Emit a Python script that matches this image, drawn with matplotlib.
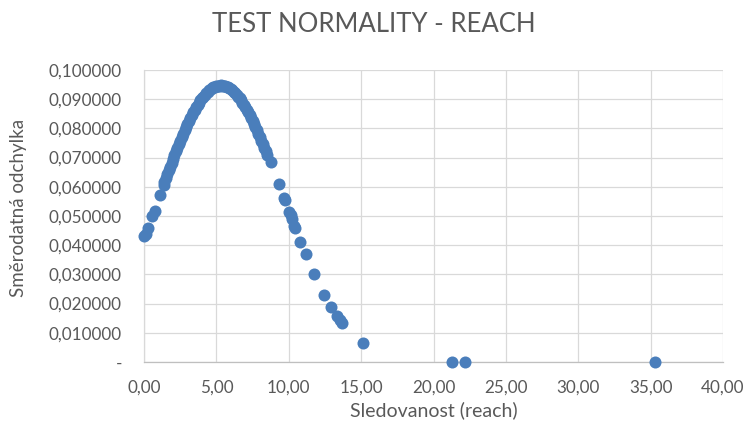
"""Scatter of normal density vs. reach (Excel-style recreation)."""

import matplotlib
matplotlib.use("Agg")
import matplotlib.pyplot as plt
from matplotlib.ticker import FuncFormatter

# reach values and their density
reach = [
    0.02, 0.12, 0.30, 0.55, 0.75, 1.12,
    1.35, 1.4, 1.5, 1.6, 1.7, 1.8, 1.9, 2.0, 2.1, 2.2, 2.3, 2.4, 2.5, 2.6,
    2.7, 2.8, 2.9, 3.0, 3.1, 3.2, 3.3, 3.4, 3.5, 3.6, 3.7, 3.8, 3.9, 4.0,
    4.1, 4.2, 4.3, 4.4, 4.5, 4.6, 4.7, 4.8, 4.9, 5.0, 5.1, 5.2, 5.3,
    5.4, 5.5, 5.6, 5.7, 5.8, 5.9, 6.0, 6.1, 6.2, 6.3, 6.4, 6.5, 6.6, 6.7,
    6.8, 6.9, 7.0, 7.1, 7.2, 7.3, 7.4, 7.5, 7.6, 7.7, 7.8, 7.9, 8.0, 8.1,
    8.2, 8.3, 8.4, 8.5,
    8.77, 9.35, 9.67, 9.72, 10.04, 10.15, 10.25, 10.38, 10.45, 10.77,
    11.17, 11.74, 12.43, 12.89, 13.35, 13.55, 13.70, 15.12,
    21.3, 22.2, 35.3,
]
density = [
    0.0430, 0.0440, 0.0458, 0.0499, 0.0516, 0.0573,
    0.0605, 0.06154, 0.06289, 0.06425, 0.06559, 0.06692, 0.06824, 0.06955,
    0.07084, 0.07212, 0.07338, 0.07462, 0.07583, 0.07702, 0.07819, 0.07932,
    0.08043, 0.08151, 0.08256, 0.08357, 0.08455, 0.08549, 0.08639, 0.08725,
    0.08807, 0.08885, 0.08958, 0.09027, 0.09091, 0.09151, 0.09205, 0.09255,
    0.09300, 0.09339, 0.09374, 0.09403, 0.09427, 0.09446, 0.09459, 0.09467,
    0.09470,
    0.09467, 0.09459, 0.09446, 0.09427, 0.09403, 0.09374, 0.09339, 0.09300,
    0.09255, 0.09205, 0.09151, 0.09091, 0.09027, 0.08958, 0.08885, 0.08807,
    0.08725, 0.08639, 0.08549, 0.08455, 0.08357, 0.08256, 0.08151, 0.08043,
    0.07932, 0.07819, 0.07702, 0.07583, 0.07462, 0.07338, 0.07212, 0.07100,
    0.0686, 0.0610, 0.0563, 0.0556, 0.0515, 0.0503, 0.0490, 0.0467, 0.0460,
    0.0412, 0.0370, 0.0301, 0.0229, 0.0189, 0.0157, 0.0143, 0.0135, 0.0066,
    0.0001, 0.0001, 0.0000,
]

x_ticks = [0, 5, 10, 15, 20, 25, 30, 35, 40]
y_ticks = [0.00, 0.01, 0.02, 0.03, 0.04, 0.05, 0.06, 0.07, 0.08, 0.09, 0.10]

TEXT = "#595959"
GRID = "#d9d9d9"
plt.rcParams["font.family"] = ["Lato", "DejaVu Sans"]

fig = plt.figure(figsize=(7.46, 4.28), dpi=100)
ax = fig.add_axes([144 / 746, 1 - 362 / 428, (723 - 144) / 746, (362 - 70) / 428])

ax.scatter(reach, density, s=75, color="#4a7ebb", linewidths=0, zorder=3,
           clip_on=False)

ax.set_xlim(0, 40)
ax.set_ylim(0, 0.1)
ax.set_xticks(x_ticks)
ax.set_yticks(y_ticks)
ax.xaxis.set_major_formatter(FuncFormatter(lambda v, p: f"{v:.2f}".replace(".", ",")))
ax.yaxis.set_major_formatter(
    FuncFormatter(lambda v, p: "-" if abs(v) < 1e-9 else f"{v:.6f}".replace(".", ",")))
ax.tick_params(length=0, colors=TEXT, labelsize=12.3)
ax.tick_params(axis="x", pad=13)
ax.tick_params(axis="y", pad=16)
ax.grid(True, color=GRID, linewidth=0.9, zorder=0)
ax.set_axisbelow(True)

for name, spine in ax.spines.items():
    spine.set_visible(name in ("bottom", "left"))
ax.spines["bottom"].set_color("#bfbfbf")
ax.spines["left"].set_color(GRID)
ax.spines["bottom"].set_linewidth(0.9)
ax.spines["left"].set_linewidth(0.9)

fig.text(434 / 746, 1 - 410 / 428, "Sledovanost (reach)", ha="center", va="center",
         color=TEXT, fontsize=14)
fig.text(19 / 746, 1 - 208 / 428, "Směrodatná odchylka", ha="center", va="center",
         rotation=90, color=TEXT, fontsize=13.5)
fig.text(374 / 746, 1 - 25 / 428, "TEST NORMALITY - REACH", ha="center", va="center",
         color=TEXT, fontsize=18.5)

fig.savefig("out.png", dpi=100, facecolor="white")
plt.close(fig)
